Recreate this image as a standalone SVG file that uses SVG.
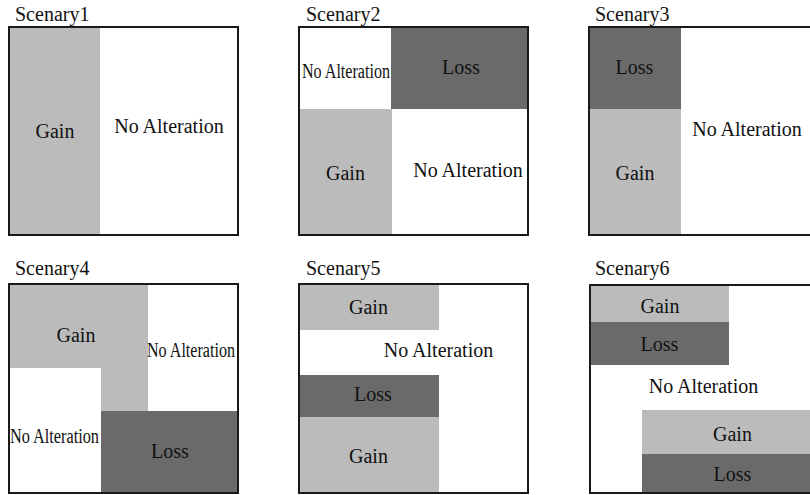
<svg xmlns="http://www.w3.org/2000/svg" width="810" height="495" viewBox="0 0 810 495" font-family="'Liberation Serif', 'DejaVu Serif', serif">
<style>
text{font-family:'Liberation Serif','DejaVu Serif',serif;font-size:20px;fill:#111}
.m{text-anchor:middle}
.g{fill:#bbbbbb}
.l{fill:#6a6a6a}
.box{fill:none;stroke:#1a1a1a;stroke-width:2}
</style>
<rect width="810" height="495" fill="#fff"/>
<g id="scenary1">
<text x="15" y="21">Scenary1</text>
<rect class="g" x="9" y="27" width="91" height="208"/>
<rect class="box" x="9" y="27" width="229" height="208"/>
<text class="m" x="55" y="138">Gain</text>
<text class="m" x="169" y="133">No Alteration</text>
</g>
<g id="scenary2">
<text x="306" y="21">Scenary2</text>
<rect class="l" x="391" y="27" width="137" height="82"/>
<rect class="g" x="299" y="109" width="93" height="126"/>
<rect class="box" x="299" y="27" width="229" height="208"/>
<text class="m" x="346" y="78" textLength="88" lengthAdjust="spacingAndGlyphs">No Alteration</text>
<text class="m" x="461" y="74">Loss</text>
<text class="m" x="345.5" y="180">Gain</text>
<text class="m" x="468" y="177">No Alteration</text>
</g>
<g id="scenary3">
<text x="595" y="21">Scenary3</text>
<rect class="l" x="589" y="27" width="92" height="82"/>
<rect class="g" x="589" y="109" width="92" height="126"/>
<rect class="box" x="589" y="27" width="229" height="208"/>
<text class="m" x="634.5" y="74">Loss</text>
<text class="m" x="635" y="180">Gain</text>
<text class="m" x="747" y="136">No Alteration</text>
</g>
<g id="scenary4">
<text x="15" y="275">Scenary4</text>
<path class="g" d="M9 284H148V411H101V368H9Z"/>
<rect class="l" x="101" y="411" width="137" height="82"/>
<rect class="box" x="9" y="284" width="229" height="209"/>
<text class="m" x="76" y="342">Gain</text>
<text class="m" x="191" y="357" textLength="88" lengthAdjust="spacingAndGlyphs">No Alteration</text>
<text class="m" x="54.5" y="443" textLength="89" lengthAdjust="spacingAndGlyphs">No Alteration</text>
<text class="m" x="170" y="458">Loss</text>
</g>
<g id="scenary5">
<text x="306" y="275">Scenary5</text>
<rect class="g" x="299" y="284" width="140" height="46"/>
<rect class="l" x="299" y="375" width="140" height="42"/>
<rect class="g" x="299" y="417" width="140" height="76"/>
<rect class="box" x="299" y="284" width="229" height="209"/>
<text class="m" x="368.5" y="314">Gain</text>
<text class="m" x="438.5" y="357">No Alteration</text>
<text class="m" x="373" y="401">Loss</text>
<text class="m" x="368.5" y="463">Gain</text>
</g>
<g id="scenary6">
<text x="595" y="275">Scenary6</text>
<rect class="g" x="590" y="285" width="139" height="37"/>
<rect class="l" x="590" y="322" width="139" height="43"/>
<rect class="g" x="642" y="410" width="180" height="44"/>
<rect class="l" x="642" y="454" width="180" height="39"/>
<rect class="box" x="590" y="285" width="229" height="208"/>
<text class="m" x="660" y="313">Gain</text>
<text class="m" x="659.5" y="351">Loss</text>
<text class="m" x="703.5" y="393">No Alteration</text>
<text class="m" x="732.5" y="441">Gain</text>
<text class="m" x="732.5" y="481">Loss</text>
</g>
</svg>
